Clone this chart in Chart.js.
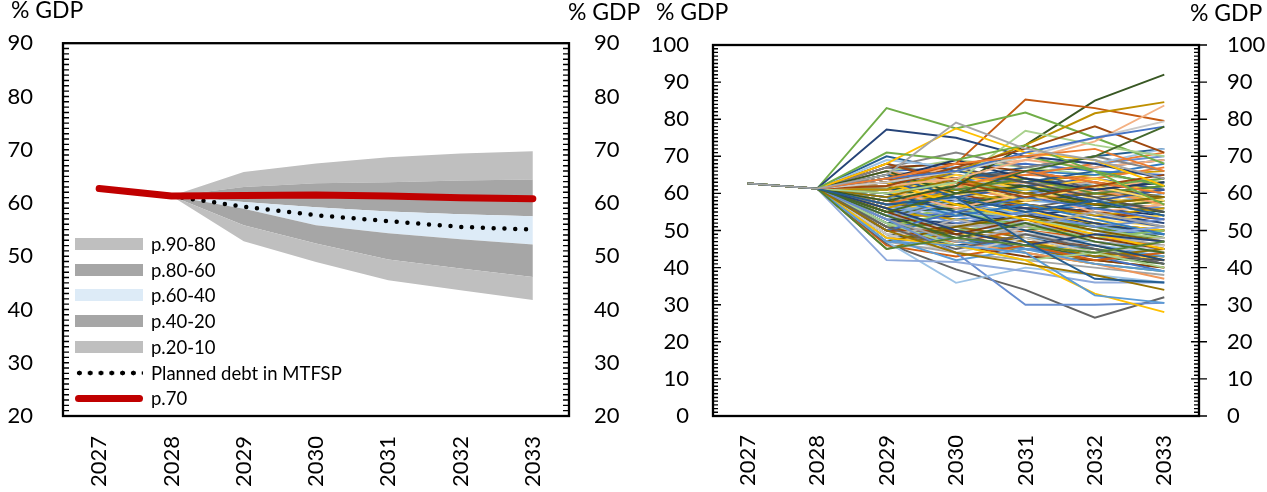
<!DOCTYPE html>
<html>
<head>
<meta charset="utf-8">
<script src="https://cdn.jsdelivr.net/npm/chart.js@4.4.1/dist/chart.umd.min.js"></script>
<style>
  body { margin: 0; width: 1267px; height: 492px; background: #fff; position: relative; overflow: hidden; font-family: Lato, sans-serif; color: #000; }
  .panel { position: absolute; top: 0; height: 492px; }
  .unit { position: absolute; font-size: 23px; line-height: 23px; white-space: nowrap; }
  .leg-row { position: absolute; left: 75px; height: 20px; width: 300px; }
  .leg-row .sw { position: absolute; left: 0; top: 4px; width: 68px; height: 12px; }
  .leg-row .tx { position: absolute; left: 76px; top: -2px; font-size: 18.5px; line-height: 24px; white-space: nowrap; }
</style>
</head>
<body>
<div class="panel" style="left:0;width:640px"><canvas id="fanChart"></canvas></div>
<div class="panel" style="left:640px;width:627px"><canvas id="pathChart"></canvas></div>

<div class="unit" style="left:11px;top:-2px">% GDP</div>
<div class="unit" style="left:568px;top:0px">% GDP</div>
<div class="unit" style="left:656px;top:0px">% GDP</div>
<div class="unit" style="left:1190px;top:1px">% GDP</div>

<div id="fanLegend"></div>

<script>
// ---- data ----
const years = ['2027', '2028', '2029', '2030', '2031', '2032', '2033'];

// fan chart percentiles (start at 2028)
const p10 = [null, 61.3, 52.8, 48.9, 45.5, 43.6, 41.8];
const p20 = [null, 61.3, 55.8, 52.4, 49.4, 47.7, 46.1];
const p40 = [null, 61.3, 58.9, 55.8, 54.3, 53.2, 52.2];
const p60 = [null, 61.3, 60.2, 59.2, 58.4, 57.9, 57.5];
const p80 = [null, 61.3, 63.0, 63.7, 63.9, 64.2, 64.4];
const p90 = [null, 61.3, 65.8, 67.4, 68.6, 69.3, 69.7];
const p70 = [62.7, 61.3, 61.4, 61.5, 61.3, 61.0, 60.8];
const plannedDebt = [null, 61.3, 59.3, 57.7, 56.6, 55.5, 55.0];

const bandLabels = ['p.90-80', 'p.80-60', 'p.60-40', 'p.40-20', 'p.20-10'];

// simulated paths: common start (2027, 2028) + values for 2029-2033
const pathStart = [62.7, 61.3];
const bulkPaths = [
  [66, 67, 68, 66, 65], [58, 60, 62, 63, 61], [52, 50, 49, 48, 46], [55, 54, 55, 52, 50],
  [60, 62, 61, 60, 58], [50, 48, 46, 45, 43], [63, 64, 66, 67, 69], [57, 56, 53, 51, 50],
  [54, 57, 60, 58, 56], [49, 47, 45, 42, 40], [62, 66, 64, 62, 63], [56, 53, 50, 52, 48],
  [59, 61, 65, 68, 70], [51, 52, 50, 47, 45], [65, 63, 60, 58, 55], [53, 49, 47, 44, 42],
  [61, 60, 58, 57, 60], [48, 50, 52, 50, 49], [67, 65, 62, 64, 61], [55, 58, 57, 55, 53],
  [58, 55, 52, 49, 47], [64, 62, 63, 65, 66], [50, 53, 55, 57, 55], [52, 48, 44, 41, 39],
  [60, 58, 56, 54, 52], [57, 60, 63, 61, 64], [46, 45, 47, 46, 44], [62, 59, 57, 53, 51],
  [54, 52, 49, 46, 44], [66, 69, 67, 65, 63], [59, 57, 54, 56, 54], [51, 46, 43, 42, 40],
  [63, 61, 59, 60, 62], [56, 58, 60, 62, 59], [49, 46, 48, 45, 41], [61, 63, 62, 59, 57],
  [53, 55, 53, 50, 49], [58, 62, 65, 64, 67], [47, 44, 42, 40, 38], [65, 66, 64, 60, 58],
  [55, 51, 48, 47, 45], [60, 57, 59, 58, 55], [52, 54, 57, 55, 52], [64, 60, 56, 55, 53],
  [57, 55, 56, 59, 61], [50, 51, 48, 44, 43], [62, 64, 67, 70, 72], [54, 50, 46, 43, 41],
  [59, 60, 61, 57, 56], [48, 47, 44, 41, 37], [66, 64, 61, 63, 60], [56, 57, 55, 53, 54],
  [61, 58, 54, 51, 49], [53, 56, 58, 60, 62], [58, 59, 57, 54, 51], [50, 47, 50, 48, 46],
  [63, 65, 63, 61, 59], [55, 53, 51, 49, 48], [60, 63, 66, 65, 68], [52, 51, 53, 51, 47],
  [57, 54, 51, 48, 45], [64, 67, 69, 67, 69], [49, 52, 50, 47, 44], [62, 60, 58, 59, 57],
  [56, 55, 52, 50, 47], [59, 56, 53, 50, 48], [53, 52, 54, 52, 50], [67, 68, 66, 63, 60],
  [51, 49, 45, 43, 42], [58, 57, 58, 60, 59], [61, 62, 60, 58, 54], [55, 56, 59, 57, 55],
  [47, 48, 45, 43, 39], [65, 64, 65, 68, 71], [54, 51, 52, 49, 46], [60, 59, 55, 52, 50],
  [52, 47, 45, 46, 43], [63, 62, 61, 62, 64], [57, 58, 56, 52, 49], [50, 50, 47, 46, 42],
  [68, 64, 66, 61, 63], [45, 50, 47, 43, 45], [70, 66, 63, 66, 62], [62, 57, 60, 56, 58],
  [57, 52, 55, 51, 53], [66, 62, 58, 61, 57], [48, 53, 49, 46, 48], [60, 65, 61, 64, 60],
  [54, 59, 55, 58, 54], [51, 55, 51, 48, 50], [63, 59, 62, 58, 61], [46, 43, 46, 42, 44],
  [67, 71, 67, 70, 66], [56, 61, 57, 54, 56], [59, 54, 57, 53, 49], [65, 61, 64, 60, 62],
  [53, 58, 52, 49, 51], [61, 56, 60, 55, 57], [49, 44, 48, 44, 46], [58, 63, 58, 62, 58],
  [69, 67, 70, 68, 72], [52, 46, 42, 44, 40], [64, 69, 64, 61, 63], [55, 49, 53, 48, 45],
  [62, 67, 63, 59, 55], [47, 51, 54, 50, 47], [60, 55, 50, 46, 42], [66, 60, 62, 57, 59],
  [50, 55, 59, 56, 53], [57, 62, 66, 63, 60], [53, 47, 51, 55, 51], [63, 57, 53, 49, 45],
  [48, 42, 45, 41, 39], [61, 66, 70, 66, 62], [56, 50, 46, 49, 47], [68, 63, 59, 62, 65],
  [51, 45, 49, 45, 41], [59, 64, 60, 57, 59], [65, 59, 55, 58, 54], [54, 48, 52, 47, 44]
];
const outlierPaths = [
  [58, 62, 73, 85, 92], [63, 68, 85.3, 83, 79.5], [83, 77.5, 81.8, 75, 68], [77.2, 75, 70, 68, 64],
  [61, 66, 73, 81.6, 84.6], [62, 64, 69, 74, 83.7], [60, 63, 76.9, 73, 70], [62, 67, 72, 78.1, 71],
  [68, 77.5, 71, 69, 62], [63, 66, 70, 75, 79.4], [64, 66, 71, 75, 78], [71, 69, 73, 66, 57],
  [46.5, 39.5, 34, 26.5, 32], [53, 44, 30, 30, 30.5], [47, 35.9, 40, 38, 36], [42, 41.5, 39, 36, 36],
  [48, 46, 42, 33, 28], [47, 46, 44, 32.5, 30.5], [50, 44, 41, 38, 34], [45, 48, 46, 44, 47],
  [64, 68, 70, 72, 66], [55, 60, 66, 70, 78], [57, 59, 47, 37, 36], [65, 79.1, 72, 69, 64]
];

// ---- styles ----
const officePalette = [
  '#4472C4', '#ED7D31', '#A5A5A5', '#FFC000', '#5B9BD5', '#70AD47',
  '#264478', '#9E480E', '#636363', '#997300', '#255E91', '#43682B',
  '#698ED0', '#F1975A', '#B7B7B7', '#FFCD33', '#7CAFDD', '#8CC168',
  '#335AA1', '#D26012', '#848484', '#CC9A00', '#327DC2', '#5A8A39',
  '#8FAADC', '#F4B183', '#C9C9C9', '#FFD966', '#9DC3E6', '#A9D18E',
  '#203864', '#843C0C', '#525252', '#7F6000', '#1F4E79', '#385723'
];
const outlierColors = [
  '#385723', '#C55A11', '#70AD47', '#264478', '#BF9000', '#F4B183', '#A9D18E', '#9E480E',
  '#FFC000', '#C9C9C9', '#4472C4', '#70AD47', '#636363', '#698ED0', '#9DC3E6', '#8FAADC',
  '#FFC000', '#5B9BD5', '#997300', '#548235', '#ED7D31', '#43682B', '#255E91', '#A5A5A5'
];
const bandColors = ['#BFBFBF', '#A6A6A6', '#DDEBF7', '#A6A6A6', '#BFBFBF'];
const FONT = 'Lato';

// frame + inward minor ticks
const frameTicks = {
  id: 'frameTicks',
  afterDatasetsDraw(chart, args, opts) {
    const { ctx, chartArea: a } = chart;
    const y = chart.scales.y;
    ctx.save();
    ctx.strokeStyle = '#000';
    ctx.lineWidth = 1.4;
    ctx.beginPath();
    for (let v = y.min; v <= y.max; v += 1) {
      const py = y.getPixelForValue(v);
      const major = v % 10 === 0;
      const len = major ? opts.major : opts.minor;
      ctx.moveTo(a.left, py); ctx.lineTo(a.left + len, py);
      ctx.moveTo(a.right - len, py); ctx.lineTo(a.right + (major ? opts.out : 0), py);
    }
    ctx.stroke();
    ctx.lineWidth = 2.3;
    ctx.strokeRect(a.left, a.top, a.right - a.left, a.bottom - a.top);
    ctx.restore();
  }
};

function yAxis(pos, min, max, pad, w) {
  return {
    position: pos, min: min, max: max,
    grid: { display: false, drawTicks: false },
    border: { display: false },
    ticks: { stepSize: 10, padding: pad, color: '#000', font: { family: FONT, size: 22 } },
    afterFit(s) { s.width = w; }
  };
}
function xAxis(pad) {
  return {
    offset: true,
    grid: { display: false, drawTicks: false },
    border: { display: false },
    ticks: { minRotation: 90, maxRotation: 90, autoSkip: false, padding: pad, color: '#000', font: { family: FONT, size: 22 } },
    afterFit(s) { s.height = 76; }
  };
}

// ---- left: fan chart ----
const bounds = [p10, p20, p40, p60, p80, p90];
const fanSets = bounds.map((b, i) => ({
  data: b,
  borderWidth: 0,
  pointRadius: 0,
  backgroundColor: i === 0 ? 'transparent' : bandColors[bandColors.length - i],
  fill: i === 0 ? false : '-1',
  order: 10
}));
fanSets.push({
  data: plannedDebt, borderColor: '#000', borderWidth: 4.5, borderDash: [0, 10.8],
  borderCapStyle: 'round', pointRadius: 0, fill: false, order: 1
});
fanSets.push({
  data: p70, borderColor: '#C00000', borderWidth: 7, borderCapStyle: 'round',
  borderJoinStyle: 'round', pointRadius: 0, fill: false, order: 0
});

new Chart(document.getElementById('fanChart'), {
  type: 'line',
  data: { labels: years, datasets: fanSets },
  options: {
    responsive: true, maintainAspectRatio: false, animation: false,
    layout: { padding: { top: 43, left: 0, right: 0, bottom: 0 } },
    elements: { line: { tension: 0 } },
    plugins: { legend: { display: false }, tooltip: { enabled: false },
      frameTicks: { minor: 6, major: 6, out: 0 } },
    scales: {
      x: xAxis(20),
      y: yAxis('left', 20, 90, 30, 63),
      y2: yAxis('right', 20, 90, 25, 71)
    }
  },
  plugins: [frameTicks]
});

// html legend for the fan chart
const legendItems = bandLabels.map((l, i) => ({ label: l, style: 'background:' + bandColors[i] }));
legendItems.push({ label: 'Planned debt in MTFSP',
  style: 'background:radial-gradient(circle, #000 2.2px, transparent 2.7px) -1px 0/10.8px 12px repeat-x' });
legendItems.push({ label: 'p.70', style: 'background:#C00000;height:7px;top:6.5px;border-radius:4px' });
const rowCenters = [244, 269.5, 295, 321, 347, 373, 398];
document.getElementById('fanLegend').innerHTML = legendItems.map((it, i) =>
  '<div class="leg-row" style="top:' + (rowCenters[i] - 10) + 'px"><div class="sw" style="' + it.style +
  '"></div><div class="tx">' + it.label + '</div></div>').join('');

// ---- right: simulated paths ----
const pathSets = [];
bulkPaths.forEach((p, i) => pathSets.push({ data: pathStart.concat(p), color: officePalette[i % officePalette.length] }));
outlierPaths.forEach((p, i) => pathSets.push({ data: pathStart.concat(p), color: outlierColors[i] }));

new Chart(document.getElementById('pathChart'), {
  type: 'line',
  data: {
    labels: years,
    // later series drawn on top, as in the spreadsheet
    datasets: pathSets.map((s, i) => ({ data: s.data, borderColor: s.color, borderWidth: 1.9, pointRadius: 0, fill: false, order: -i }))
  },
  options: {
    responsive: true, maintainAspectRatio: false, animation: false,
    layout: { padding: { top: 45, left: 0, right: 0, bottom: 0 } },
    elements: { line: { tension: 0 } },
    plugins: { legend: { display: false }, tooltip: { enabled: false },
      frameTicks: { minor: 5, major: 8, out: 8 } },
    scales: {
      x: xAxis(19),
      y: yAxis('left', 0, 100, 24, 73),
      y2: yAxis('right', 0, 100, 28, 68)
    }
  },
  plugins: [frameTicks]
});
</script>
</body>
</html>
